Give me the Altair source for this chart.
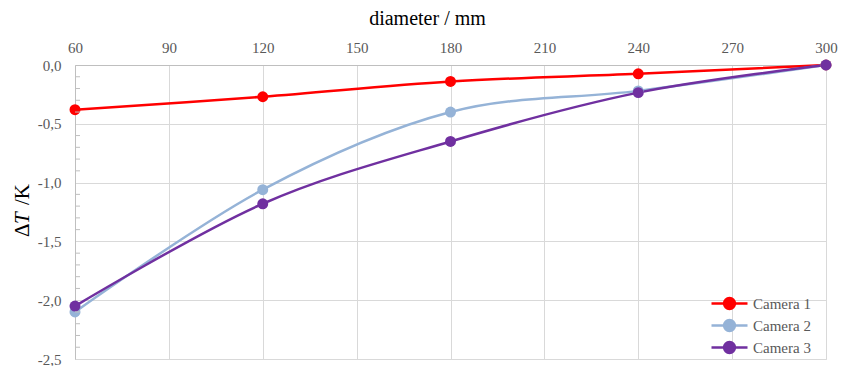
import altair as alt
import pandas as pd

# ---- data ----
diameters = [60, 120, 180, 240, 300]
camera1 = [-0.38, -0.27, -0.14, -0.075, 0.0]
camera2 = [-2.10, -1.06, -0.40, -0.22, 0.0]
camera3 = [-2.05, -1.18, -0.65, -0.235, 0.0]
series_names = ["Camera 1", "Camera 2", "Camera 3"]
series_colors = ["#FF0000", "#95B3D7", "#7030A0"]
x_ticks = [60, 90, 120, 150, 180, 210, 240, 270, 300]
y_ticks = [0.0, -0.5, -1.0, -1.5, -2.0, -2.5]
y_minor = [-0.1, -0.2, -0.3, -0.4, -0.6, -0.7, -0.8, -0.9, -1.1, -1.2, -1.3, -1.4,
           -1.6, -1.7, -1.8, -1.9, -2.1, -2.2, -2.3, -2.4]

rows = []
for name, vals in zip(series_names, [camera1, camera2, camera3]):
    for d, v in zip(diameters, vals):
        rows.append({"diameter": d, "dT": v, "series": name})
df = pd.DataFrame(rows)
minor_df = pd.DataFrame({"v": y_minor})

FONT = "Liberation Serif"
GRID = "#d9d9d9"
AXISC = "#bfbfbf"
LABC = "#595959"

xscale = alt.Scale(domain=[60, 300], nice=False, zero=False)
yscale = alt.Scale(domain=[-2.5, 0], nice=False, zero=False)

y_label_expr = "replace(replace(format(datum.value, '.1f'), '.', ','), '\u2212', '-')"

legend_symbol = ("M-2,0L2,0M-0.6,0A0.6,0.6,0,1,1,0.6,0A0.6,0.6,0,1,1,-0.6,0Z")

color = alt.Color(
    "series:N",
    scale=alt.Scale(domain=series_names, range=series_colors),
    legend=alt.Legend(
        title=None, orient="none", legendX=644, legendY=228, padding=0,
        symbolType=legend_symbol, symbolSize=324, symbolStrokeWidth=2.5,
        labelFont=FONT, labelFontSize=15, labelColor=LABC, labelOffset=13,
        rowPadding=1,
    ),
)

x_axis = alt.Axis(
    orient="top", values=x_ticks, format="d", grid=True, gridColor=GRID, gridWidth=1,
    ticks=False, tickSize=0, domainColor=AXISC, domainWidth=1,
    labelFont=FONT, labelFontSize=15, labelColor=LABC, labelPadding=13,
    labelBaseline="alphabetic", labelFlush=False,
    title="diameter / mm", titleFont=FONT, titleFontSize=20, titleFontWeight="normal",
    titleColor="#000000", titleX=352, titleY=-41, titleBaseline="alphabetic",
    titleAnchor="middle", titleAlign="center",
)
y_axis = alt.Axis(
    values=y_ticks, labelExpr=y_label_expr, grid=True, gridColor=GRID, gridWidth=1,
    ticks=False, tickSize=0, domainColor=AXISC, domainWidth=1,
    labelFont=FONT, labelFontSize=15, labelColor=LABC, labelPadding=14,
    labelFlush=False, title=None,
)

x_enc = alt.X("diameter:Q", scale=xscale, axis=x_axis)
y_enc = alt.Y("dT:Q", scale=yscale, axis=y_axis)

lines = alt.Chart(df).mark_line(interpolate="cardinal", strokeWidth=2.5).encode(
    x=x_enc, y=y_enc, color=color, detail="series:N",
)
points = alt.Chart(df).mark_point(filled=True, size=120, opacity=1).encode(
    x=x_enc, y=y_enc, color=color,
)
minor = alt.Chart(minor_df).mark_rule(color=AXISC, strokeWidth=1).encode(
    y=alt.Y("v:Q", scale=yscale, axis=y_axis),
    x=alt.value(0), x2=alt.value(5),
)

one = pd.DataFrame({"a": [0]})
def title_piece(txt, ypos, style):
    return alt.Chart(one).mark_text(
        angle=270, align="left", baseline="alphabetic", font=FONT, fontSize=21,
        fontStyle=style, color="#000000",
    ).encode(x=alt.value(-46), y=alt.value(ypos), text=alt.value(txt))

ytitle = title_piece("\u0394", 172, "normal") + title_piece("T", 159, "italic") + title_piece("/K", 140, "normal")

chart = alt.layer(lines, points, minor, ytitle).properties(
    width=751, height=294,
    autosize=alt.AutoSizeParams(type="none"),
    padding={"left": 67, "top": 57, "right": 12, "bottom": 7},
).configure_view(stroke=None).configure_axis(
    labelFont=FONT, titleFont=FONT, labelFontSize=15, labelColor=LABC,
).configure(font=FONT)

chart.save("out.html", embed_options={"renderer": "svg", "actions": False})
